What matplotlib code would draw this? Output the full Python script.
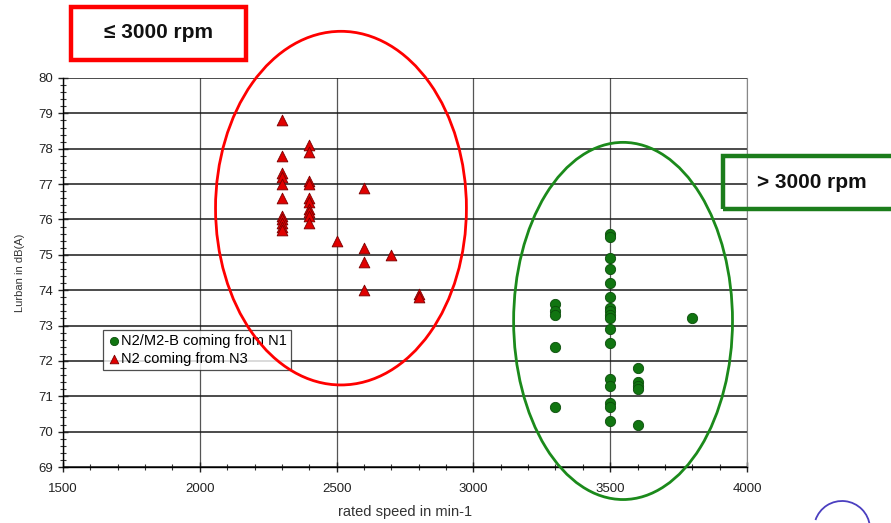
import numpy as np
import matplotlib
matplotlib.use('Agg')
import matplotlib.pyplot as plt
from matplotlib.patches import Ellipse, Rectangle, Arc
from matplotlib.ticker import MultipleLocator

plt.rcParams['font.family'] = ['Liberation Sans', 'DejaVu Sans']

# N2 coming from N3 (red triangles)
tri_x = [2300] * 11 + [2400] * 10 + [2500] + [2600] * 4 + [2700] + [2800] * 2
tri_y = [78.8, 77.8, 77.3, 77.2, 77.0, 76.6, 76.1, 76.0, 75.9, 75.8, 75.7,
         78.1, 77.9, 77.1, 77.0, 76.6, 76.5, 76.3, 76.2, 76.1, 75.9,
         75.4,
         76.9, 75.2, 74.8, 74.0,
         75.0,
         73.9, 73.8]

# N2/M2-B coming from N1 (green circles)
circ_x = [3300] * 5 + [3500] * 17 + [3600] * 5 + [3800]
circ_y = [73.6, 73.4, 73.3, 72.4, 70.7,
          75.6, 75.5, 74.9, 74.6, 74.2, 73.8, 73.5, 73.4, 73.3, 73.2,
          72.9, 72.5, 71.5, 71.3, 70.8, 70.7, 70.3,
          71.8, 71.4, 71.3, 71.2, 70.2,
          73.2]

fig = plt.figure(figsize=(8.91, 5.23), dpi=100)
ax = fig.add_axes([63 / 891, 56 / 523, 684 / 891, 389 / 523])

ax.set_xlim(1500, 4000)
ax.set_ylim(69, 80)
ax.xaxis.set_major_locator(MultipleLocator(500))
ax.xaxis.set_minor_locator(MultipleLocator(100))
ax.yaxis.set_major_locator(MultipleLocator(1))
ax.yaxis.set_minor_locator(MultipleLocator(0.2))

ax.grid(True, axis='y', which='major', color='#1a1a1a', lw=1.1)
ax.grid(True, axis='x', which='major', color='#555555', lw=0.9)
ax.set_axisbelow(True)

ax.spines['right'].set_color('#888888')
ax.spines['right'].set_linewidth(0.8)
ax.spines['top'].set_visible(False)
ax.spines['left'].set_linewidth(1.0)
ax.spines['bottom'].set_linewidth(1.0)

ax.tick_params(axis='both', which='major', direction='inout', length=7,
               width=1.0, labelsize=9.5, colors='#222222')
ax.tick_params(axis='both', which='minor', direction='inout', length=5,
               width=0.8, colors='#333333')
ax.tick_params(axis='x', which='major', pad=8)

ax.scatter(circ_x, circ_y, marker='o', s=55, color='#117511',
           edgecolor='#0b4d0b', linewidth=0.6, zorder=3,
           label='N2/M2-B coming from N1')
ax.scatter(tri_x, tri_y, marker='^', s=60, color='#e00000',
           edgecolor='#7a0000', linewidth=0.6, zorder=3,
           label='N2 coming from N3')

ax.set_xlabel('rated speed in min-1', fontsize=10.5, color='#333333', labelpad=7)
ax.set_ylabel('Lurban in dB(A)', fontsize=8, color='#333333', labelpad=10)

leg = ax.legend(loc='lower left', bbox_to_anchor=(0.058, 0.249),
                fontsize=10.5, frameon=True, fancybox=False, edgecolor='#222222',
                handletextpad=0.05, borderpad=0.3, labelspacing=0.25,
                handlelength=0.9, borderaxespad=0, markerscale=0.8)
leg.get_frame().set_linewidth(0.9)
leg.set_zorder(5)

# highlight ellipses
ax.add_patch(Ellipse((2516, 76.32), 917, 10.0, fill=False, edgecolor='#ff0000',
                     lw=2.0, clip_on=False, zorder=6))
ax.add_patch(Ellipse((3547, 73.13), 800, 10.1, fill=False, edgecolor='#1b8a1b',
                     lw=2.0, clip_on=False, zorder=6))

# labelled boxes in figure coords
fig.patches.append(Rectangle((71 / 891, 1 - 60 / 523), 175 / 891, 53 / 523,
                             transform=fig.transFigure, fill=False,
                             edgecolor='#ff0000', lw=3.2))
fig.text(158 / 891, 1 - 33 / 523, '≤ 3000 rpm', fontsize=15, fontweight='bold',
         ha='center', va='center', color='#111111')
fig.patches.append(Rectangle((723 / 891, 1 - 209 / 523), 200 / 891, 53 / 523,
                             transform=fig.transFigure, fill=False,
                             edgecolor='#1b7d1b', lw=3.2, clip_on=False))
fig.text(812 / 891, 1 - 182 / 523, '> 3000 rpm', fontsize=15, fontweight='bold',
         ha='center', va='center', color='#111111')

fig.patches.append(Arc((842 / 891, 1 - 529 / 523), 56 / 891, 56 / 523,
                       theta1=10, theta2=150, transform=fig.transFigure,
                       edgecolor='#4b3fc0', lw=1.3))

fig.savefig('out.png', dpi=100)
